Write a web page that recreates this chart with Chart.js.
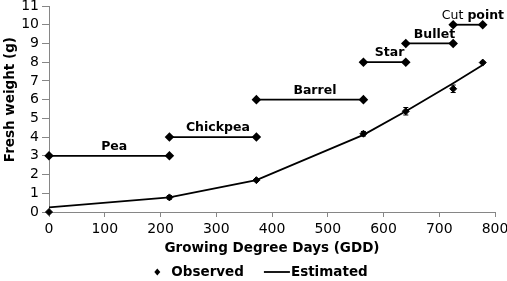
<!DOCTYPE html>
<html>
<head>
<meta charset="utf-8">
<script src="https://cdn.jsdelivr.net/npm/chart.js@4.4.0/dist/chart.umd.min.js"></script>
<style>
  html, body { margin: 0; padding: 0; background: #fff; }
  #wrap { width: 507px; height: 281px; }
</style>
</head>
<body>
<div id="wrap"><canvas id="chart" width="507" height="281"></canvas></div>
<script>
// Fresh weight against growing degree days
const gdd = [0, 216, 372, 564, 640, 725, 778];
const observed = [0, 0.78, 1.70, 4.18, 5.38, 6.58, 7.98];
const observedErr = [0, 0.10, 0.05, 0.12, 0.20, 0.20, 0.05];
const estimated = [0.25, 0.78, 1.70, 4.12, 5.38, 6.88, 7.85];

// Growth stages, drawn as horizontal bars
const stageNames = ['Pea', 'Chickpea', 'Barrel', 'Star', 'Bullet', 'Cut point'];
const stageStart = [0, 216, 372, 564, 640, 725];
const stageEnd = [216, 372, 564, 640, 725, 778];
const stageLevel = [3, 4, 6, 8, 9, 10];

// Tick labels
const xTicks = [0, 100, 200, 300, 400, 500, 600, 700, 800];
const yTicks = [0, 1, 2, 3, 4, 5, 6, 7, 8, 9, 10, 11];

const FONT = 'DejaVu Sans';
const AXIS_GREY = '#868686';

Chart.defaults.font.family = FONT;
Chart.defaults.color = '#000';

// Build one dataset per stage bar
const stageSets = stageNames.map(function (name, i) {
    return {
        label: name,
        data: [{ x: stageStart[i], y: stageLevel[i] }, { x: stageEnd[i], y: stageLevel[i] }],
        showLine: true,
        borderColor: '#000',
        backgroundColor: '#000',
        borderWidth: 1.8,
        pointStyle: 'rectRot',
        pointRadius: 3.5,
        clip: false
    };
});

// Error bars on the observed points
const errorBars = {
    id: 'errorBars',
    afterDatasetsDraw(chart) {
        const meta = chart.getDatasetMeta(chart.data.datasets.findIndex(d => d.label === 'Observed'));
        const y = chart.scales.y;
        const ctx = chart.ctx;
        ctx.save();
        ctx.strokeStyle = '#000';
        ctx.lineWidth = 1;
        meta.data.forEach(function (pt, i) {
            const e = observedErr[i];
            if (!e) return;
            const top = y.getPixelForValue(observed[i] + e);
            const bot = y.getPixelForValue(observed[i] - e);
            ctx.beginPath();
            ctx.moveTo(pt.x, top); ctx.lineTo(pt.x, bot);
            ctx.moveTo(pt.x - 2.5, top); ctx.lineTo(pt.x + 2.5, top);
            ctx.moveTo(pt.x - 2.5, bot); ctx.lineTo(pt.x + 2.5, bot);
            ctx.stroke();
        });
        ctx.restore();
    }
};

// Stage names above each bar ("Cut" is set in regular weight)
const stageLabels = {
    id: 'stageLabels',
    afterDatasetsDraw(chart) {
        const ctx = chart.ctx;
        const xs = chart.scales.x, ys = chart.scales.y;
        ctx.save();
        ctx.fillStyle = '#000';
        ctx.textBaseline = 'middle';
        stageNames.forEach(function (name, i) {
            const cx = (xs.getPixelForValue(stageStart[i]) + xs.getPixelForValue(stageEnd[i])) / 2 + 5;
            const cy = ys.getPixelForValue(stageLevel[i]) - 9;
            const words = name.split(' ');
            const parts = words.map(function (w, k) {
                const txt = k < words.length - 1 ? w + ' ' : w;
                const bold = !(words.length > 1 && k === 0);
                ctx.font = (bold ? 'bold ' : '') + '12.5px "' + FONT + '"';
                return { txt: txt, bold: bold, w: ctx.measureText(txt).width };
            });
            const total = parts.reduce((s, p) => s + p.w, 0);
            let x = cx - total / 2;
            ctx.textAlign = 'left';
            parts.forEach(function (p) {
                ctx.font = (p.bold ? 'bold ' : '') + '12.5px "' + FONT + '"';
                ctx.fillText(p.txt, x, cy);
                x += p.w;
            });
        });
        ctx.restore();
    }
};

// Legend under the axis title: only Observed and Estimated
const bottomLegend = {
    id: 'bottomLegend',
    afterDraw(chart) {
        const ctx = chart.ctx;
        const area = chart.chartArea;
        const cy = chart.height - 9;
        ctx.save();
        ctx.font = 'bold 13.5px "' + FONT + '"';
        ctx.textBaseline = 'middle';
        ctx.fillStyle = '#000';
        ctx.strokeStyle = '#000';
        const wObs = ctx.measureText('Observed').width;
        const wEst = ctx.measureText('Estimated').width;
        const total = 6 + 11 + wObs + 20 + 27 + wEst;
        let x = (area.left + area.right) / 2 - 11 - total / 2;
        // diamond marker
        ctx.beginPath();
        ctx.moveTo(x + 3, cy - 3.5); ctx.lineTo(x + 6, cy); ctx.lineTo(x + 3, cy + 3.5); ctx.lineTo(x, cy);
        ctx.closePath(); ctx.fill();
        x += 6 + 11;
        ctx.fillText('Observed', x, cy);
        x += wObs + 20;
        ctx.lineWidth = 1.8;
        ctx.beginPath(); ctx.moveTo(x, cy); ctx.lineTo(x + 26, cy); ctx.stroke();
        x += 27;
        ctx.fillText('Estimated', x, cy);
        ctx.restore();
    }
};

new Chart(document.getElementById('chart'), {
    type: 'scatter',
    data: {
        datasets: stageSets.concat([
            {
                label: 'Estimated',
                data: gdd.map((g, i) => ({ x: g, y: estimated[i] })),
                showLine: true,
                borderColor: '#000',
                borderWidth: 1.8,
                pointRadius: 0,
                clip: false
            },
            {
                label: 'Observed',
                data: gdd.map((g, i) => ({ x: g, y: observed[i] })),
                showLine: false,
                pointStyle: 'rectRot',
                pointRadius: 3.5,
                backgroundColor: '#000',
                borderColor: '#000',
                clip: false
            }
        ])
    },
    options: {
        responsive: false,
        animation: false,
        devicePixelRatio: 1,
        layout: { padding: { left: 0, right: 0, top: 0, bottom: 20 } },
        plugins: {
            legend: { display: false },
            tooltip: { enabled: false }
        },
        scales: {
            x: {
                type: 'linear',
                min: 0,
                max: 800,
                afterBuildTicks: s => { s.ticks = xTicks.map(v => ({ value: v })); },
                afterFit: s => { s.height = 49; s.paddingRight = 12; },
                ticks: { font: { size: 14 }, color: '#000', padding: 4, autoSkip: false, maxRotation: 0 },
                grid: { drawOnChartArea: false, tickLength: 5, color: AXIS_GREY },
                border: { color: AXIS_GREY },
                title: {
                    display: true,
                    text: 'Growing Degree Days (GDD)',
                    font: { size: 13.5, weight: 'bold' },
                    color: '#000',
                    padding: { top: 4, bottom: 4 }
                }
            },
            y: {
                min: 0,
                max: 11,
                afterBuildTicks: s => { s.ticks = yTicks.map(v => ({ value: v })); },
                afterFit: s => { s.width = 49; s.paddingTop = 6; },
                ticks: { font: { size: 14 }, color: '#000', padding: 3, autoSkip: false },
                grid: { drawOnChartArea: false, tickLength: 7, color: AXIS_GREY },
                border: { color: AXIS_GREY },
                title: {
                    display: true,
                    text: '    Fresh weight (g)',
                    font: { size: 13.5, weight: 'bold' },
                    color: '#000',
                    padding: { top: 2, bottom: 0 }
                }
            }
        }
    },
    plugins: [errorBars, stageLabels, bottomLegend]
});
</script>
</body>
</html>
